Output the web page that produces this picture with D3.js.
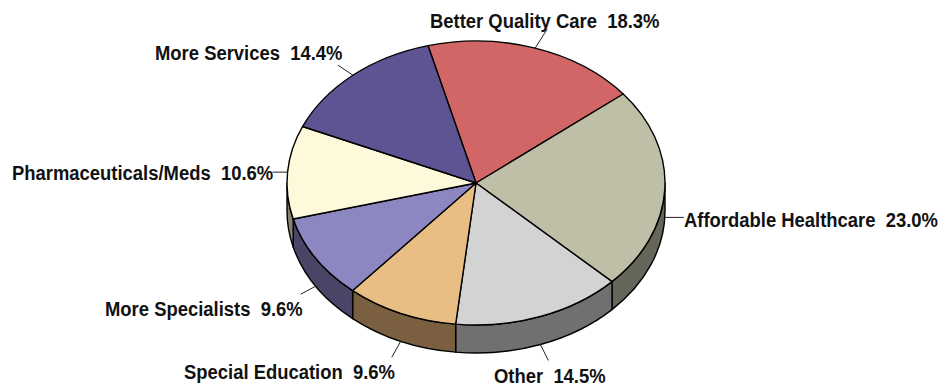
<!DOCTYPE html>
<html><head><meta charset="utf-8">
<script src="https://cdn.jsdelivr.net/npm/d3@7"></script>
<style>html,body{margin:0;padding:0;background:#fff}svg{display:block}
text{font-family:"Liberation Sans",Arial,sans-serif;font-weight:bold;font-size:19.5px;fill:#111;white-space:pre}</style>
</head><body><svg id="c" width="950" height="386"></svg>
<script>
const categories=["Better Quality Care","Affordable Healthcare","Other","Special Education","More Specialists","Pharmaceuticals/Meds","More Services"];
const values=[18.3,23.0,14.5,9.6,9.6,10.6,14.4];
const topColors=["#D26666","#BFBFA8","#D3D3D3","#E8BE84","#8C86C1","#FFF9DC","#5E5393"];
const sideColors=["#6E3535","#65655A","#707070","#7A6040","#4A4566","#87836F","#322C4E"];
// layout of the labels (text left edge/baseline, leader end)
const labelX=[430,684,494,184,105,12,155];
const labelY=[28,227,383,379,316,180,60];
const leaderDx=[12,19,8,-9,-15,-15,-15];
const leaderDy=[-19,0,16,16,8,0,-10];
const textSquash=0.945;

const cx=476,cy=183,rx=189,ry=142,depth=28;
const start=-14.7*Math.PI/180;
const svg=d3.select("#c");
const pie=d3.pie().sort(null).startAngle(start).endAngle(start+2*Math.PI);
const arcs=pie(values);
const arc=d3.arc().innerRadius(0).outerRadius(rx);
const px=a=>cx+rx*Math.sin(a), py=a=>cy-ry*Math.cos(a);
const pct=v=>v.toFixed(1)+"%";

// side wall
const lo=Math.PI/2, hi=3*Math.PI/2;
const wall=arcs.map((d,i)=>{
  const a0=Math.max(d.startAngle,lo), a1=Math.min(d.endAngle,hi);
  return a1>a0?{a0,a1,i}:null;
}).filter(Boolean);
svg.append("g").selectAll("path").data(wall).join("path")
  .attr("d",d=>`M${px(d.a0)},${py(d.a0)}A${rx},${ry} 0 0 1 ${px(d.a1)},${py(d.a1)}V${py(d.a1)+depth}A${rx},${ry} 0 0 0 ${px(d.a0)},${py(d.a0)+depth}Z`)
  .attr("fill",d=>sideColors[d.i]).attr("stroke","#000").attr("stroke-width",1.4).attr("stroke-linejoin","round");

// leaders
svg.append("g").selectAll("line").data(arcs).join("line")
  .each(function(d,i){
    const m=(d.startAngle+d.endAngle)/2, low=Math.cos(m)<0.05;
    const x=px(m), y=py(m)+(low?depth:0);
    d3.select(this).attr("x1",x).attr("y1",y).attr("x2",x+leaderDx[i]).attr("y2",y+leaderDy[i]);
  }).attr("stroke","#222").attr("stroke-width",1);

// top
svg.append("g").attr("transform",`translate(${cx},${cy}) scale(1,${ry/rx})`)
  .selectAll("path").data(arcs).join("path")
  .attr("d",arc).attr("fill",(d,i)=>topColors[i])
  .attr("stroke","#000").attr("stroke-width",1.4).attr("stroke-linejoin","round")
  .attr("vector-effect","non-scaling-stroke");

// labels
svg.append("g").selectAll("text").data(categories).join("text")
  .attr("transform",(d,i)=>`translate(${labelX[i]},${labelY[i]}) scale(${textSquash},1)`)
  .text((d,i)=>d+"  "+pct(values[i]));
</script></body></html>
